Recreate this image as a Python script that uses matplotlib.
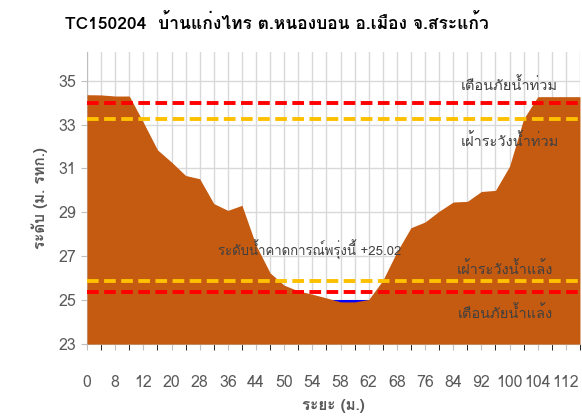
import matplotlib
matplotlib.use("Agg")
import matplotlib.pyplot as plt
from matplotlib import font_manager
from matplotlib.ft2font import FT2Font

# หา font ที่มีอักษรไทย
thai_font = None
for f in font_manager.fontManager.ttflist:
    try:
        if 0x0E01 in FT2Font(f.fname).get_charmap():
            thai_font = f.name
            break
    except Exception:
        pass
fams = ([thai_font] if thai_font else []) + ["DejaVu Sans"]
plt.rcParams['font.family'] = fams

# ข้อมูล
distance = [0, 4, 8, 10, 12, 16, 20, 24, 28, 32, 36, 40, 44, 48, 50, 52, 54, 56,
            58, 60, 62, 65, 68, 72, 76, 80, 84, 88, 92, 96, 100, 102, 104, 108, 112, 116]
ground = [34.36, 34.35, 34.3, 34.3, 33.1, 31.85, 31.29, 30.68, 30.53, 29.4, 29.09, 29.32,
          27.5, 26.24, 25.68, 25.42, 25.27, 25.1, 24.92, 24.92, 25.03, 25.9, 27.2, 28.3,
          28.56, 29.05, 29.47, 29.5, 29.95, 30.0, 31.1, 33.26, 34.27, 34.27, 34.27, 34.27]
water_level = 25.02
flood_warn = 34.0
flood_watch = 33.25
drought_watch = 25.85
drought_warn = 25.35

n = len(distance)
idx = list(range(n))

fig = plt.figure(figsize=(5.82, 4.17), dpi=100)
ax = fig.add_axes([0.1495, 0.175, 0.847, 0.70])

ax.fill_between(idx, 23, [water_level] * n, color="#0000FF", lw=0, zorder=2)
ax.fill_between(idx, 23, ground, color="#C55A11", lw=0, zorder=3)

dash = (0, (3, 1.4))
ax.plot(idx, [flood_warn] * n, color="#FF0000", lw=2.8, ls=dash, zorder=4)
ax.plot(idx, [flood_watch] * n, color="#FFC000", lw=2.8, ls=dash, zorder=4)
ax.plot(idx, [drought_watch] * n, color="#FFC000", lw=2.8, ls=dash, zorder=4)
ax.plot(idx, [drought_warn] * n, color="#FF0000", lw=2.8, ls=dash, zorder=4)

tc = "#404040"
ax.text(30, 34.8, "เตือนภัยน้ำท่วม", color=tc, fontsize=10.5, ha="center", va="center", zorder=5)
ax.text(30, 32.27, "เฝ้าระวังน้ำท่วม", color=tc, fontsize=10.5, ha="center", va="center", zorder=5)
ax.text(29.7, 26.4, "เฝ้าระวังน้ำแล้ง", color=tc, fontsize=10.5, ha="center", va="center", zorder=5)
ax.text(29.7, 24.4, "เตือนภัยน้ำแล้ง", color=tc, fontsize=10.5, ha="center", va="center", zorder=5)
ax.text(9.3, 27.3, "ระดับน้ำคาดการณ์พรุ่งนี้ +25.02", color=tc, fontsize=9.5,
        ha="left", va="center", zorder=5)

ax.set_xlim(0, n - 1)
ax.set_ylim(23, 36.3)
ax.set_yticks([23, 25, 27, 29, 31, 33, 35])
ax.set_xticks(idx, minor=True)
ax.set_xticks(idx[::2])
ax.set_xticklabels([str(d) for d in distance[::2]])
ax.grid(True, which="both", axis="x", color="#D9D9D9", lw=1, zorder=0)
ax.grid(True, which="major", axis="y", color="#D9D9D9", lw=1, zorder=0)
ax.set_axisbelow(True)

for s in ["top", "right"]:
    ax.spines[s].set_visible(False)
for s in ["left", "bottom"]:
    ax.spines[s].set_color("#BFBFBF")
ax.tick_params(axis="both", colors="#BFBFBF", labelcolor="#595959", labelsize=11.5, length=4)
ax.tick_params(axis="x", which="both", length=4, pad=18)

ax.set_xlabel("ระยะ (ม.)", color="#595959", fontsize=11, fontweight="bold", labelpad=6)
ax.set_ylabel("ระดับ (ม. รทก.)", color="#595959", fontsize=11, fontweight="bold", labelpad=8)
fig.suptitle("TC150204  บ้านแก่งไทร ต.หนองบอน อ.เมือง จ.สระแก้ว", x=0.475, y=0.97,
             fontsize=12.5, fontweight="bold", color="black")

fig.savefig("out.png", dpi=100)
